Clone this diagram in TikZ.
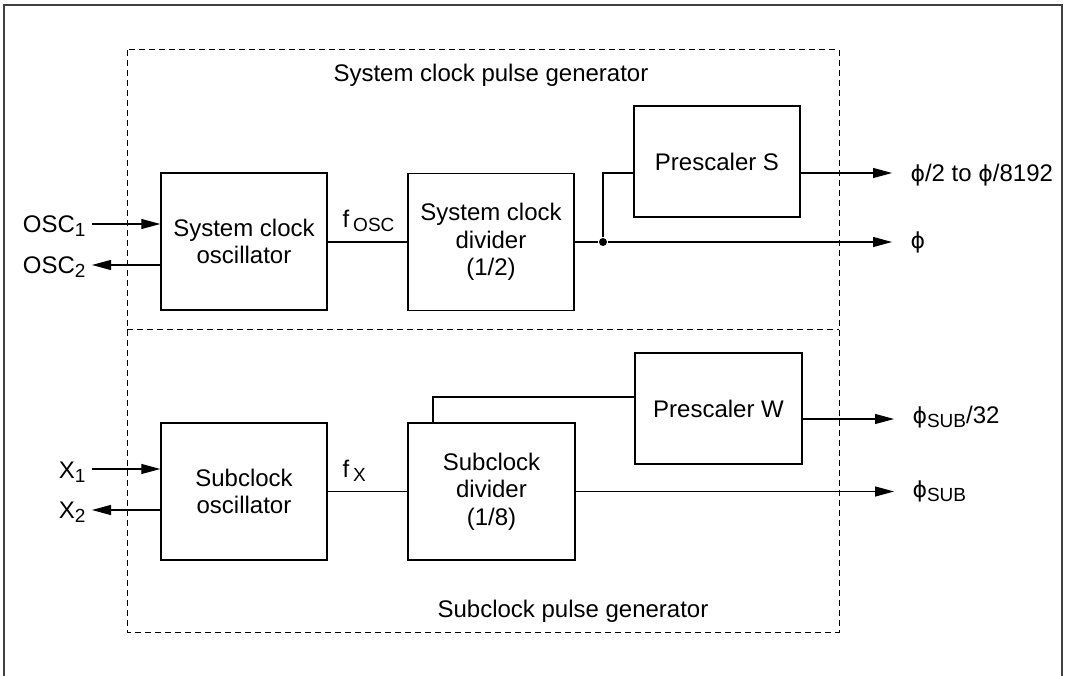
\documentclass[tikz,border=0pt]{standalone}
\usepackage{fontspec}
\setmainfont{Liberation Sans}
\newfontfamily\greekfont{DejaVu Sans}
\usepackage{tikz}
\usetikzlibrary{arrows.meta,positioning,calc}
\newcommand{\phis}{{\greekfont\fontsize{22}{22}\selectfont ϕ}}
\newcommand{\lowsub}[1]{\raisebox{-4pt}{\fontsize{19}{19}\selectfont #1}}
\tikzstyle{block} = [draw, rectangle, line width=1.4pt, minimum width=166pt, minimum height=137pt, inner sep=0pt, align=center]
\tikzstyle{prescaler} = [block, minimum height=111pt]
\tikzstyle{lbl} = [inner sep=0pt]
\tikzstyle{input} = [coordinate]
\tikzstyle{output} = [coordinate]
\tikzstyle{dot} = [circle, fill, inner sep=0pt, minimum size=8pt]

\begin{document}
\begin{tikzpicture}[x=1pt, y=-1pt, line width=1.1pt, >={Triangle[length=19pt,width=10pt]},
    font=\fontsize{24}{27.5}\selectfont]
    \useasboundingbox (0,0) rectangle (1066,676);
    % Frame
    \draw [line width=2pt, black!75] (4,676) -- (4,5) -- (1062,5) -- (1062,676);
    \draw [dash pattern=on 6pt off 4pt, line width=1pt] (127,50) rectangle (839,632);
    \draw [dash pattern=on 6pt off 4pt, line width=1pt] (127,330) -- (839,330);
    \node [lbl, anchor=base west] (systitle) at (333,82) {System clock pulse generator};
    \node [lbl, anchor=base west] (subtitle) at (437,617) {Subclock pulse generator};

    % System clock
    \node [block] (sysosc) at (244,241.5) {System clock\\oscillator};
    \node [block] (sysdiv) at (491,242) {System clock\\divider\\(1/2)};
    \node [prescaler] (prescs) at (717,161.5) {Prescaler S};
    \node [dot] (junc) at (603,242) {};
    \node [input] (osc1) at (92,224) {};
    \node [output] (osc2) at (92,265) {};
    \node [output] (psout) at (892,173) {};
    \node [output] (phiout) at (892,242) {};
    \node [lbl, anchor=base east] (osc1lbl) at (86,233) {OSC\lowsub{1}};
    \node [lbl, anchor=base east] (osc2lbl) at (86,274) {OSC\lowsub{2}};
    \node [lbl, anchor=base west] (fosc) at (342,228) {f\,\lowsub{OSC}};
    \node [lbl, anchor=base west] (pslbl) at (910,182) {\phis/2 to \phis/8192};
    \node [lbl, anchor=base west] (philbl) at (910,249) {\phis};

    % Subclock
    \node [block] (subosc) at (244,491.5) {Subclock\\oscillator};
    \node [block, minimum width=167pt] (subdiv) at (491.5,491.5) {Subclock\\divider\\(1/8)};
    \node [prescaler, minimum width=167pt] (prescw) at (718.5,408.5) {Prescaler W};
    \node [input] (x1) at (92,469) {};
    \node [output] (x2) at (92,510) {};
    \node [coordinate] (wtap) at (433,397) {};
    \node [output] (pwout) at (894,419) {};
    \node [output] (subout) at (894,491.5) {};
    \node [lbl, anchor=base east] (x1lbl) at (86,478) {X\lowsub{1}};
    \node [lbl, anchor=base east] (x2lbl) at (86,518) {X\lowsub{2}};
    \node [lbl, anchor=base west] (fx) at (342,477) {f\,\lowsub{X}};
    \node [lbl, anchor=base west] (pwlbl) at (912,423) {\phis\lowsub{SUB}/32};
    \node [lbl, anchor=base west] (sublbl) at (912,497) {\phis\lowsub{SUB}};

    % Connections
    \draw [->] (osc1) -- (osc1 -| sysosc.west);
    \draw [->] (sysosc.west |- osc2) -- (osc2);
    \draw (sysosc.east |- sysdiv.west) -- (sysdiv.west);
    \draw (sysdiv.east) -- (junc);
    \draw [->] (junc) -- (phiout);
    \draw (junc) |- (prescs.west |- psout);
    \draw [->] (prescs.east |- psout) -- (psout);

    \draw [->] (x1) -- (x1 -| subosc.west);
    \draw [->] (subosc.west |- x2) -- (x2);
    \draw (subosc.east |- subdiv.west) -- (subdiv.west);
    \draw [->] (subdiv.east) -- (subout);
    \draw (wtap |- subdiv.north) |- (prescw.west |- wtap);
    \draw [->] (prescw.east |- pwout) -- (pwout);
\end{tikzpicture}
\end{document}
